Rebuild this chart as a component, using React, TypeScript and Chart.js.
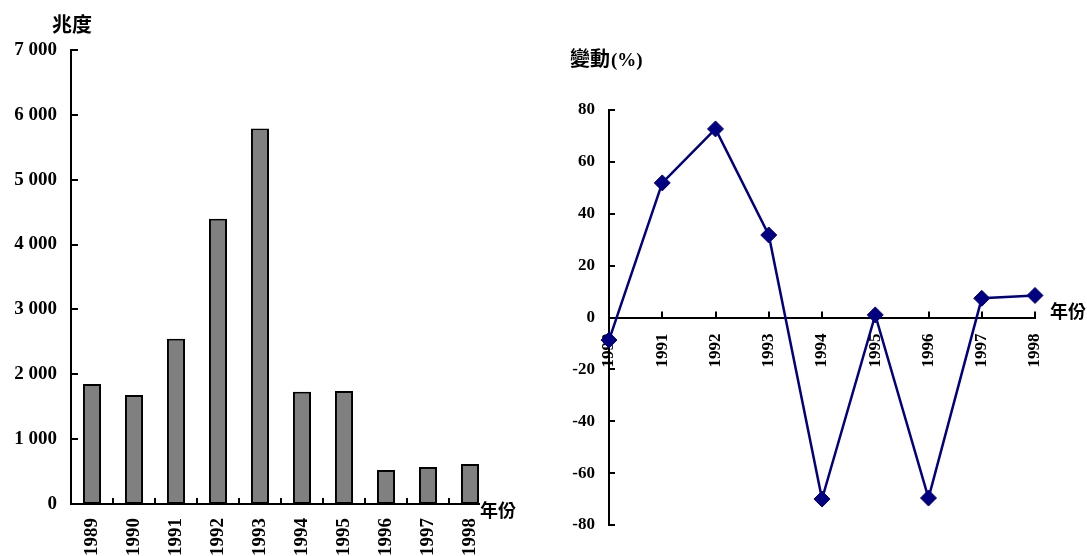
import React, { useEffect, useRef } from "react";
import { Chart, registerables } from "chart.js";

Chart.register(...registerables);

// ---- data ----
const years = ["1989", "1990", "1991", "1992", "1993", "1994", "1995", "1996", "1997", "1998"];
const consumption = [1852, 1682, 2547, 4399, 5788, 1729, 1744, 525, 571, 617];
const changeYears = ["1990", "1991", "1992", "1993", "1994", "1995", "1996", "1997", "1998"];
const changePct = [-8.7, 51.9, 72.7, 31.8, -70, 1.0, -69.6, 7.4, 8.5];
const leftYTitle = "兆度";
const xTitle = "年份";
const rightYTitle = "變動";
const rightYUnit = "(%)";

const SERIF = '"Liberation Serif", "Times New Roman", serif';
const CJK = '"Noto Sans CJK TC", "Noto Sans CJK SC", sans-serif';

const fmt = (v: number) => String(v).replace(/\B(?=(\d{3})+(?!\d))/g, " ");

function LeftChart() {
  const ref = useRef<HTMLCanvasElement | null>(null);
  useEffect(() => {
    if (!ref.current) return;
    const decor = {
      id: "leftDecor",
      beforeDatasetsDraw(chart: any) {
        const { ctx, chartArea, scales } = chart;
        const x = scales.x;
        const y = scales.y;
        ctx.save();
        ctx.strokeStyle = "#000";
        ctx.lineWidth = 2;
        y.ticks.forEach((t: any) => {
          const py = Math.round(y.getPixelForValue(t.value));
          ctx.beginPath();
          ctx.moveTo(chartArea.left, py);
          ctx.lineTo(chartArea.left + 7, py);
          ctx.stroke();
        });
        for (let i = 0; i < years.length - 1; i++) {
          const px = Math.round((x.getPixelForValue(i) + x.getPixelForValue(i + 1)) / 2);
          ctx.beginPath();
          ctx.moveTo(px, chartArea.bottom);
          ctx.lineTo(px, chartArea.bottom - 6);
          ctx.stroke();
        }
        ctx.restore();
      },
      afterDraw(chart: any) {
        const { ctx, chartArea } = chart;
        const meta = chart.getDatasetMeta(0);
        const last = meta.data[meta.data.length - 1];
        const endX = last.x + last.width / 2 + 1;
        ctx.save();
        ctx.strokeStyle = "#000";
        ctx.lineWidth = 2;
        ctx.beginPath();
        ctx.moveTo(chartArea.left - 1, chartArea.bottom);
        ctx.lineTo(endX, chartArea.bottom);
        ctx.stroke();
        ctx.fillStyle = "#000";
        ctx.textBaseline = "middle";
        ctx.textAlign = "left";
        ctx.font = `bold 20px ${CJK}`;
        ctx.fillText(leftYTitle, 52, 24);
        ctx.font = `bold 18px ${CJK}`;
        ctx.fillText(xTitle, endX, chartArea.bottom + 6);
        ctx.restore();
      },
    };
    const chart = new Chart(ref.current, {
      type: "bar",
      data: {
        labels: years,
        datasets: [
          {
            data: consumption,
            backgroundColor: "#808080",
            borderColor: "#000",
            borderWidth: 2,
            borderSkipped: false,
            barPercentage: 0.43,
            categoryPercentage: 1,
          },
        ],
      },
      options: {
        responsive: false,
        animation: false,
        layout: { padding: { top: 50, right: 49, left: 0, bottom: 0 } },
        plugins: { legend: { display: false }, tooltip: { enabled: false } },
        scales: {
          x: {
            grid: { display: false, drawTicks: false },
            border: { display: false },
            ticks: {
              color: "#000",
              font: { family: SERIF, weight: "bold", size: 19 },
              minRotation: 90,
              maxRotation: 90,
              padding: 14,
              autoSkip: false,
            },
            afterFit: (s: any) => {
              s.height = 52;
            },
          },
          y: {
            min: 0,
            max: 7000,
            grid: { display: false, drawTicks: false },
            border: { display: true, color: "#000", width: 2 },
            ticks: {
              stepSize: 1000,
              color: "#000",
              font: { family: SERIF, weight: "bold", size: 19 },
              padding: 14,
              callback: (v: any) => fmt(Number(v)),
            },
            afterFit: (s: any) => {
              s.width = 71;
            },
          },
        },
      },
      plugins: [decor],
    } as any);
    return () => chart.destroy();
  }, []);
  return <canvas ref={ref} width={540} height={556} style={{ display: "block", width: 540, height: 556 }} />;
}

function RightChart() {
  const ref = useRef<HTMLCanvasElement | null>(null);
  useEffect(() => {
    if (!ref.current) return;
    const decor = {
      id: "rightDecor",
      beforeDatasetsDraw(chart: any) {
        const { ctx, chartArea, scales } = chart;
        const x = scales.x;
        const y = scales.y;
        const y0 = y.getPixelForValue(0);
        ctx.save();
        ctx.strokeStyle = "#000";
        ctx.lineWidth = 2;
        y.ticks.forEach((t: any) => {
          const py = Math.round(y.getPixelForValue(t.value));
          ctx.beginPath();
          ctx.moveTo(chartArea.left, py);
          ctx.lineTo(chartArea.left + 6, py);
          ctx.stroke();
        });
        for (let i = 0; i < changeYears.length; i++) {
          const px = Math.round(x.getPixelForValue(i));
          ctx.beginPath();
          ctx.moveTo(px, y0);
          ctx.lineTo(px, y0 - 6);
          ctx.stroke();
        }
        ctx.restore();
      },
      afterDraw(chart: any) {
        const { ctx, chartArea, scales } = chart;
        const y0 = scales.y.getPixelForValue(0);
        ctx.save();
        ctx.fillStyle = "#000";
        ctx.textBaseline = "middle";
        ctx.textAlign = "left";
        ctx.font = `bold 20px ${CJK}`;
        ctx.fillText(rightYTitle, 30, 58);
        const w = ctx.measureText(rightYTitle).width;
        ctx.font = `bold 19px ${SERIF}`;
        ctx.fillText(rightYUnit, 30 + w + 1, 61);
        ctx.font = `bold 18px ${CJK}`;
        ctx.fillText(xTitle, chartArea.right + 15, y0 - 6);
        ctx.restore();
      },
    };
    const chart = new Chart(ref.current, {
      type: "line",
      data: {
        labels: changeYears,
        datasets: [
          {
            data: changePct,
            borderColor: "#000080",
            backgroundColor: "#000080",
            borderWidth: 2.5,
            pointStyle: "rectRot",
            pointRadius: 8,
            pointBorderWidth: 1,
            pointBackgroundColor: "#000080",
            pointBorderColor: "#000080",
            tension: 0,
            clip: false,
          },
        ],
      },
      options: {
        responsive: false,
        animation: false,
        layout: { padding: { top: 110, right: 52, left: 0, bottom: 31 } },
        plugins: { legend: { display: false }, tooltip: { enabled: false } },
        scales: {
          x: {
            position: { y: 0 },
            offset: false,
            grid: { display: false, drawTicks: false },
            border: { display: true, color: "#000", width: 2 },
            ticks: {
              color: "#000",
              font: { family: SERIF, weight: "bold", size: 17 },
              minRotation: 90,
              maxRotation: 90,
              padding: 16,
              autoSkip: false,
            },
          },
          y: {
            min: -80,
            max: 80,
            grid: { display: false, drawTicks: false },
            border: { display: true, color: "#000", width: 2 },
            ticks: {
              stepSize: 20,
              color: "#000",
              font: { family: SERIF, weight: "bold", size: 17 },
              padding: 14,
            },
            afterFit: (s: any) => {
              s.width = 69;
            },
          },
        },
      },
      plugins: [decor],
    } as any);
    return () => chart.destroy();
  }, []);
  return <canvas ref={ref} width={547} height={556} style={{ display: "block", width: 547, height: 556 }} />;
}

export default function App() {
  return (
    <div style={{ position: "absolute", left: 0, top: 0, width: 1087, height: 556, background: "#fff", overflow: "hidden" }}>
      <div style={{ position: "absolute", left: 0, top: 0 }}>
        <LeftChart />
      </div>
      <div style={{ position: "absolute", left: 540, top: 0 }}>
        <RightChart />
      </div>
    </div>
  );
}
